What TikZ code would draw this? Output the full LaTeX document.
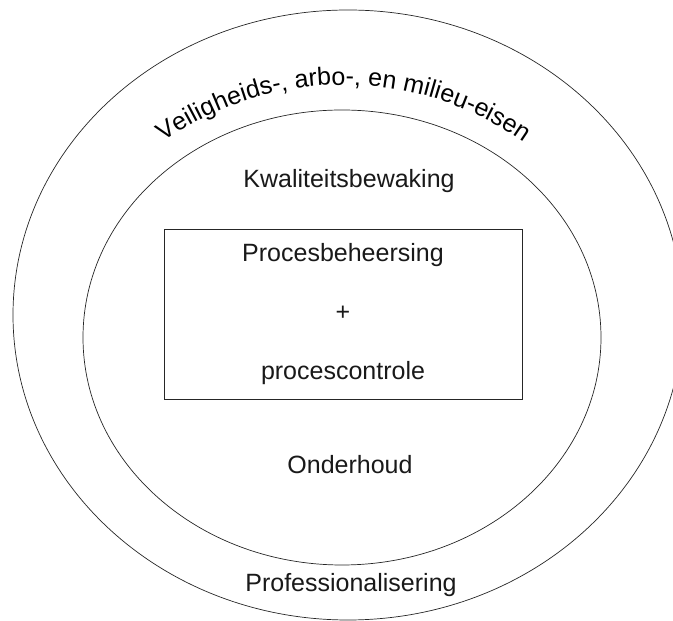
\documentclass[tikz,border=0pt]{standalone}
\usepackage{fontspec}
\setmainfont{Liberation Sans}
\usetikzlibrary{positioning}
\usetikzlibrary{decorations.text}
\newcommand{\ringfont}{\fontsize{25}{30}\selectfont}
\begin{document}
\begin{tikzpicture}[x=1pt,y=1pt,
  ring/.style={draw=black!85,line width=0.7pt},
  lbl/.style={font=\ringfont,text=black!90,inner sep=0pt}]
\useasboundingbox (0,0) rectangle (673,621);
\clip (0,0) rectangle (673,621);

\draw[ring] (348,306) ellipse[x radius=335,y radius=305];
\draw[ring] (342,283.5) ellipse[x radius=259,y radius=227.5];
\draw[ring] (164,392) rectangle (522,222);

\path[decorate,decoration={text along path,text align=center,
  text={|\ringfont|Veiligheids-, arbo-, en milieu-eisen}}]
  (344,224) ++(151:312) arc[start angle=151,end angle=29,radius=312];

\node[lbl] (kwal) at (349,440) {Kwaliteitsbewaking};
\node[lbl] (proc) at (343,366) {Procesbeheersing};
\node[lbl] (plus) at (343,308) {+};
\node[lbl] (ctrl) at (343,248) {procescontrole};
\node[lbl] (ond) at (350,156) {Onderhoud};
\node[lbl] (prof) at (351,36) {Professionalisering};
\end{tikzpicture}
\end{document}
